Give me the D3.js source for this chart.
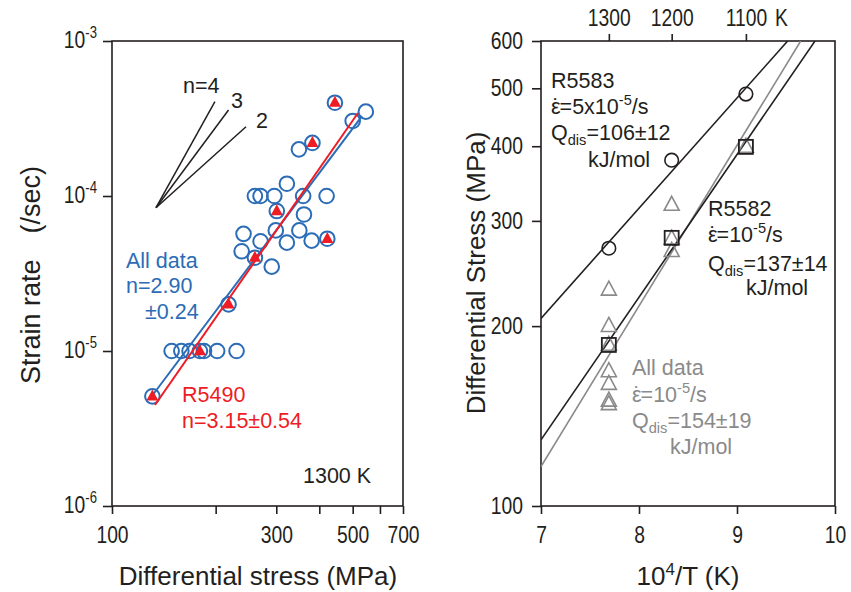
<!DOCTYPE html>
<html>
<head>
<meta charset="utf-8">
<script src="https://cdn.jsdelivr.net/npm/d3@7"></script>
<style>
  body { margin: 0; background: #fff; }
  text { font-family: "Liberation Sans", Arial, sans-serif; fill: #231f20; }
</style>
</head>
<body>
<svg id="chart" width="851" height="592"></svg>
<script>
// ---- left panel data (1300 K) ----
const allStress = [444, 546, 500, 382, 349, 322, 260, 270, 296, 359, 420, 301, 361, 241, 299, 350,
                   270, 322, 380, 422, 238, 260, 291, 218, 149, 159, 168, 180, 185, 202, 230, 131];
const allRate = [4.0e-4, 3.5e-4, 3.05e-4, 2.2e-4, 2.0e-4, 1.2e-4, 1e-4, 1e-4, 1e-4, 1e-4, 1e-4, 8.0e-5, 7.6e-5, 5.7e-5, 6.0e-5, 6.0e-5,
                 5.1e-5, 5.0e-5, 5.15e-5, 5.3e-5, 4.4e-5, 4.0e-5, 3.5e-5, 2.0e-5, 1e-5, 1e-5, 1e-5, 1e-5, 1e-5, 1e-5, 1e-5, 5.1e-6];
const r5490Stress = [131, 180, 218, 260, 301, 422, 382, 444];
const r5490Rate = [5.1e-6, 1e-5, 2.0e-5, 4.0e-5, 8.0e-5, 5.3e-5, 2.2e-4, 4.0e-4];
const fitAllStress = [131.3, 532];
const fitAllRate = [5.2e-6, 3.28e-4];
const fitR5490Stress = [133.3, 518];
const fitR5490Rate = [4.48e-6, 3.43e-4];
// slope guides n=4,3,2 from a common origin
const guideN = ["n=4", "3", "2"];
const guideOrigin = [134.2, 8.4e-5];
const guideEndStress = [199, 218, 245];
const guideEndRate = [4.07e-4, 3.59e-4, 2.8e-4];
const leftXTicks = [100, 200, 300, 400, 500, 600, 700];
const leftXLabels = [100, 300, 500, 700];
const leftYExp = [-6, -5, -4, -3];

// ---- right panel data ----
const tempLabels = [1300, 1200, 1100];
const r5583Stress = [270, 379, 489];
const r5582Stress = [186, 281, 399];
const triTemp = [1300, 1300, 1300, 1300, 1300, 1300, 1300, 1200, 1200, 1200, 1100];
const triStress = [230, 200, 186, 168, 160, 150, 148, 319, 280, 267, 399];
const fitR5583 = [[7, 206], [9.517, 600]];
const fitR5582 = [[7, 129], [9.796, 600]];
const fitAllT = [[7, 116.4], [9.65, 600]];
const rightXTicks = [7, 8, 9, 10];
const rightYTicks = [100, 200, 300, 400, 500, 600];

const ink = "#231f20", blue = "#2b6cb6", red = "#ee1c24", gray = "#8a8a8a";
const FONT = "'Liberation Sans', Arial, sans-serif";
const svg = d3.select("#chart");

// text helper: parts = [[string, "n"|"sup"|"sub", dx(em)], ...]
function rich(g, x, y, parts, size, color, anchor) {
  const t = g.append("text").attr("x", x).attr("y", y)
    .style("font-size", size + "px").style("fill", color || ink)
    .attr("text-anchor", anchor || "start");
  let shift = 0;
  parts.forEach(([s, k, dx]) => {
    const sp = t.append("tspan").text(s);
    let want = k === "sup" ? -0.42 * size : k === "sub" ? 0.22 * size : 0;
    sp.attr("dy", want - shift);
    if (dx) sp.attr("dx", dx * size);
    shift = want;
    if (k === "sup" || k === "sub") sp.style("font-size", (size * 0.68) + "px");
  });
  return t;
}
// epsilon with a dot above it
const epsDot = [["\u03b5", "n"], ["\u02d9", "n", -0.38]];

// narrow the tick labels like the original's condensed face
function condense(sel, sx) {
  sel.each(function() {
    const t = d3.select(this);
    const x = +t.attr("x") || 0, y = +t.attr("y") || 0;
    t.attr("transform", "translate(" + x + "," + y + ") scale(" + sx + ",1) translate(" + (-x) + "," + (-y) + ")");
  });
}

// ================= LEFT PANEL =================
const L = {x0: 112, x1: 403, y0: 41, y1: 506};
const xL = d3.scaleLog().domain([100, 700]).range([L.x0, L.x1]);
const yL = d3.scaleLog().domain([1e-6, 1e-3]).range([L.y1, L.y0]);
const gL = svg.append("g");

gL.append("rect").attr("x", L.x0).attr("y", L.y0).attr("width", L.x1 - L.x0).attr("height", L.y1 - L.y0)
  .attr("fill", "none").attr("stroke", ink).attr("stroke-width", 1.6);

// bottom axis
const axL = gL.append("g").attr("transform", "translate(0," + L.y1 + ")")
  .call(d3.axisBottom(xL).tickValues(leftXTicks).tickSize(8).tickFormat(d => leftXLabels.includes(d) ? d : ""));
axL.select(".domain").remove();
axL.selectAll("line").attr("stroke", ink).attr("stroke-width", 1.6);
axL.selectAll("text").style("font-size", "23px").attr("y", 21).style("fill", ink).style("font-family", FONT);
condense(axL.selectAll("text"), 0.84);

// left axis with 10^n labels
const ayL = gL.append("g").attr("transform", "translate(" + L.x0 + ",0)")
  .call(d3.axisLeft(yL).tickValues(leftYExp.map(e => Math.pow(10, e))).tickSize(9).tickFormat(""));
ayL.select(".domain").remove();
ayL.selectAll("line").attr("stroke", ink).attr("stroke-width", 1.6);
const yLab = gL.append("g");
leftYExp.forEach(e => {
  rich(yLab, 97, yL(Math.pow(10, e)) + 7, [["10", "n"], ["-" + Math.abs(e), "sup"]], 23, ink, "end");
});
condense(yLab.selectAll("text"), 0.84);

// slope guides
guideN.forEach((lab, i) => {
  gL.append("line")
    .attr("x1", xL(guideOrigin[0])).attr("y1", yL(guideOrigin[1]))
    .attr("x2", xL(guideEndStress[i])).attr("y2", yL(guideEndRate[i]))
    .attr("stroke", ink).attr("stroke-width", 1.5);
});
rich(gL, 183, 93, [[guideN[0], "n"]], 21.5);
rich(gL, 231, 108, [[guideN[1], "n"]], 21.5);
rich(gL, 256, 128, [[guideN[2], "n"]], 21.5);

// all data circles
gL.selectAll("circle.all").data(allStress).enter().append("circle")
  .attr("cx", d => xL(d)).attr("cy", (d, i) => yL(allRate[i])).attr("r", 7.3)
  .attr("fill", "none").attr("stroke", blue).attr("stroke-width", 2);

// fit lines
gL.append("line").attr("x1", xL(fitAllStress[0])).attr("y1", yL(fitAllRate[0]))
  .attr("x2", xL(fitAllStress[1])).attr("y2", yL(fitAllRate[1]))
  .attr("stroke", blue).attr("stroke-width", 2);
gL.append("line").attr("x1", xL(fitR5490Stress[0])).attr("y1", yL(fitR5490Rate[0]))
  .attr("x2", xL(fitR5490Stress[1])).attr("y2", yL(fitR5490Rate[1]))
  .attr("stroke", red).attr("stroke-width", 2);

// R5490 filled triangles
const triPath = (w, h) => "M0," + (-h * 0.62) + "L" + (w / 2) + "," + (h * 0.38) + "L" + (-w / 2) + "," + (h * 0.38) + "Z";
gL.selectAll("path.r5490").data(r5490Stress).enter().append("path")
  .attr("d", triPath(12, 11))
  .attr("transform", (d, i) => "translate(" + xL(d) + "," + yL(r5490Rate[i]) + ")")
  .attr("fill", red);

// annotations
rich(gL, 126, 268, [["All data", "n"]], 21.5, blue);
rich(gL, 126, 293, [["n=2.90", "n"]], 21.5, blue);
rich(gL, 145, 319, [["±0.24", "n"]], 21.5, blue);
rich(gL, 182, 402, [["R5490", "n"]], 21.5, red);
rich(gL, 182, 428, [["n=3.15±0.54", "n"]], 21.5, red);
rich(gL, 303, 483, [["1300 K", "n"]], 21.5);

// axis titles
svg.append("text").attr("x", 258).attr("y", 585).attr("text-anchor", "middle")
  .style("font-size", "26px").text("Differential stress (MPa)");
svg.append("text").attr("transform", "translate(40,275) rotate(-90)").attr("text-anchor", "middle")
  .style("font-size", "27px")
  .call(t => { t.append("tspan").text("Strain rate"); t.append("tspan").attr("dx", 26).text("(/sec)"); });

// ================= RIGHT PANEL =================
const R = {x0: 541, x1: 835, y0: 41, y1: 506};
const xR = d3.scaleLinear().domain([7, 10]).range([R.x0, R.x1]);
const yR = d3.scaleLog().domain([100, 600]).range([R.y1, R.y0]);
const gR = svg.append("g");

gR.append("rect").attr("x", R.x0).attr("y", R.y0).attr("width", R.x1 - R.x0).attr("height", R.y1 - R.y0)
  .attr("fill", "none").attr("stroke", ink).attr("stroke-width", 1.6);

const axR = gR.append("g").attr("transform", "translate(0," + R.y1 + ")")
  .call(d3.axisBottom(xR).tickValues(rightXTicks).tickSize(8).tickFormat(d3.format("d")));
const ayR = gR.append("g").attr("transform", "translate(" + R.x0 + ",0)")
  .call(d3.axisLeft(yR).tickValues(rightYTicks).tickSize(9).tickFormat(d3.format("d")));
const atR = gR.append("g").attr("transform", "translate(0," + R.y0 + ")")
  .call(d3.axisTop(xR).tickValues(tempLabels.map(t => 1e4 / t)).tickSize(7)
    .tickFormat((d, i) => tempLabels[i]));
[axR, ayR, atR].forEach(a => {
  a.select(".domain").remove();
  a.selectAll("line").attr("stroke", ink).attr("stroke-width", 1.6);
  a.selectAll("text").style("font-size", "23px").style("fill", ink).style("font-family", FONT);
});
axR.selectAll("text").attr("y", 21);
ayR.selectAll("text").attr("x", -18);
atR.selectAll("text").attr("y", -15);
atR.append("text").attr("x", xR(1e4 / 1100) + 29).attr("y", -15)
  .style("font-size", "23px").style("fill", ink).attr("text-anchor", "start").text("K");
[axR, ayR, atR].forEach(a => condense(a.selectAll("text"), 0.84));

// clip for fit lines
svg.append("clipPath").attr("id", "clipR").append("rect")
  .attr("x", R.x0).attr("y", R.y0).attr("width", R.x1 - R.x0).attr("height", R.y1 - R.y0);
const lineR = d3.line().x(d => xR(d[0])).y(d => yR(d[1]));
const gLines = gR.append("g").attr("clip-path", "url(#clipR)");
gLines.append("path").attr("d", lineR(fitR5583)).attr("stroke", ink).attr("stroke-width", 1.6).attr("fill", "none");
gLines.append("path").attr("d", lineR(fitAllT)).attr("stroke", gray).attr("stroke-width", 1.6).attr("fill", "none");
gLines.append("path").attr("d", lineR(fitR5582)).attr("stroke", ink).attr("stroke-width", 1.6).attr("fill", "none");

// gray open triangles (all data)
gR.selectAll("path.tri").data(triStress).enter().append("path")
  .attr("d", triPath(15, 14))
  .attr("transform", (d, i) => "translate(" + xR(1e4 / triTemp[i]) + "," + yR(d) + ")")
  .attr("fill", "none").attr("stroke", gray).attr("stroke-width", 1.6);

// R5583 circles
gR.selectAll("circle.r5583").data(r5583Stress).enter().append("circle")
  .attr("cx", (d, i) => xR(1e4 / tempLabels[i])).attr("cy", d => yR(d)).attr("r", 6.8)
  .attr("fill", "none").attr("stroke", ink).attr("stroke-width", 1.6);

// R5582 squares
gR.selectAll("rect.r5582").data(r5582Stress).enter().append("rect")
  .attr("x", (d, i) => xR(1e4 / tempLabels[i]) - 7).attr("y", d => yR(d) - 7)
  .attr("width", 14).attr("height", 14)
  .attr("fill", "none").attr("stroke", ink).attr("stroke-width", 1.8);

// annotations
rich(gR, 551, 88, [["R5583", "n"]], 21.5);
rich(gR, 551, 114, [...epsDot, ["=5x10", "n"], ["-5", "sup"], ["/s", "n"]], 21.5);
rich(gR, 551, 140, [["Q", "n"], ["dis", "sub"], ["=106±12", "n"]], 21.5);
rich(gR, 588, 167, [["kJ/mol", "n"]], 21.5);
rich(gR, 708, 216, [["R5582", "n"]], 21.5);
rich(gR, 708, 242, [...epsDot, ["=10", "n"], ["-5", "sup"], ["/s", "n"]], 21.5);
rich(gR, 708, 271, [["Q", "n"], ["dis", "sub"], ["=137±14", "n"]], 21.5);
rich(gR, 746, 295, [["kJ/mol", "n"]], 21.5);
rich(gR, 632, 375, [["All data", "n"]], 21.5, gray);
rich(gR, 632, 402, [...epsDot, ["=10", "n"], ["-5", "sup"], ["/s", "n"]], 21.5, gray);
rich(gR, 632, 428, [["Q", "n"], ["dis", "sub"], ["=154±19", "n"]], 21.5, gray);
rich(gR, 670, 454, [["kJ/mol", "n"]], 21.5, gray);

svg.append("text").attr("x", 688).attr("y", 585).attr("text-anchor", "middle")
  .style("font-size", "26px")
  .call(t => { t.append("tspan").text("10"); t.append("tspan").attr("dy", -10).style("font-size", "17px").text("4");
               t.append("tspan").attr("dy", 10).text("/T (K)"); });
svg.append("text").attr("transform", "translate(485,273) rotate(-90)").attr("text-anchor", "middle")
  .style("font-size", "26px").text("Differential Stress (MPa)");
</script>
</body>
</html>
